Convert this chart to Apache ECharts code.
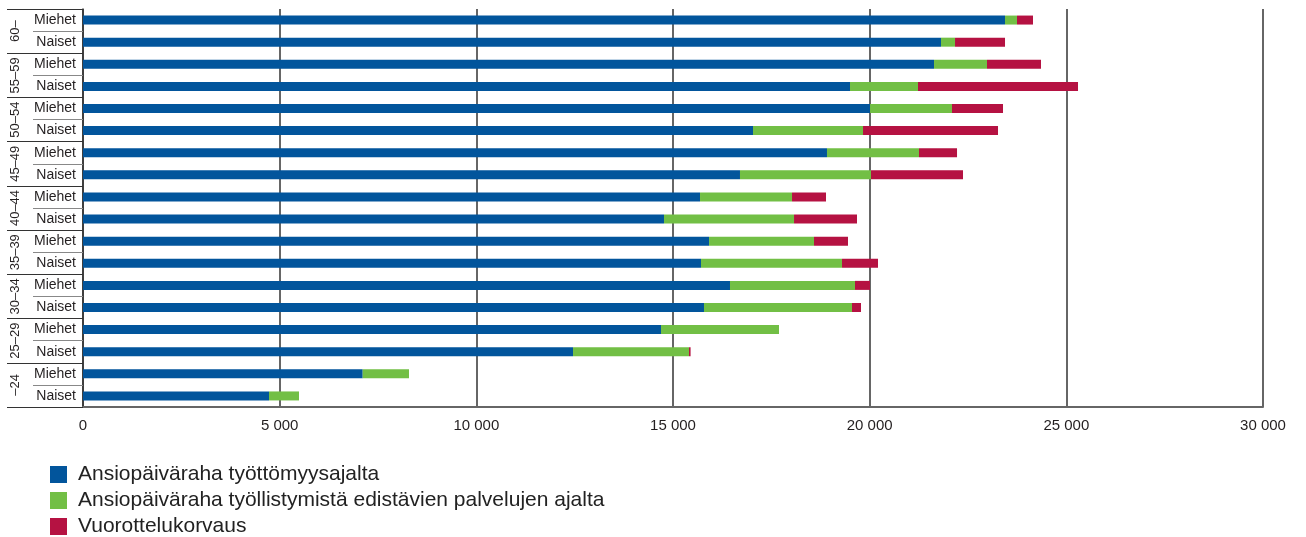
<!DOCTYPE html>
<html>
<head>
<meta charset="utf-8">
<script src="https://cdn.jsdelivr.net/npm/echarts@6/dist/echarts.min.js"></script>
<style>
html,body{margin:0;padding:0;background:#fff;}
#chart{width:1306px;height:537px;}
</style>
</head>
<body>
<div id="chart"></div>
<script>
const rowLabels = ["Miehet","Naiset","Miehet","Naiset","Miehet","Naiset","Miehet","Naiset","Miehet","Naiset","Miehet","Naiset","Miehet","Naiset","Miehet","Naiset","Miehet","Naiset"];
const groupLabels = ["60–","55–59","50–54","45–49","40–44","35–39","30–34","25–29","–24"];
const seriesNames = ["Ansiopäiväraha työttömyysajalta","Ansiopäiväraha työllistymistä edistävien palvelujen ajalta","Vuorottelukorvaus"];
const unemployment = [23441,21814,21636,19500,20009,17034,18915,16703,15687,14771,15916,15712,16449,15788,14695,12458,7111,4729];
const services = [305,356,1347,1729,2084,2797,2339,3331,2339,3306,2669,3585,3178,3763,3000,2949,1177,763];
const jobAlternation = [407,1271,1373,4068,1297,3432,967,2339,864,1601,864,915,382,229,0,40,0,0];
const xTicks = [0,5000,10000,15000,20000,25000,30000];

const colors = ["#02559c","#72bf45","#b51242"];
const font = "'Liberation Sans',Arial,sans-serif";
const chart = echarts.init(document.getElementById('chart'), null, {renderer:'canvas'});
const values = [unemployment, services, jobAlternation];
chart.setOption({
  animation:false,
  color:colors,
  grid:{left:83,right:43,top:9,bottom:130,containLabel:false},
  legend:seriesNames.map((n,i)=>({
    orient:'vertical',left:50,top:464+i*26,padding:0,itemWidth:17,itemHeight:17,
    icon:'rect',selectedMode:false,
    textStyle:{fontSize:21,color:'#222',fontFamily:font,padding:[0,0,0,6]},
    data:[n]
  })),
  xAxis:{
    type:'value',min:xTicks[0],max:xTicks[xTicks.length-1],interval:5000,
    axisLine:{show:true,lineStyle:{color:'#666',width:2}},
    axisTick:{show:false},
    splitLine:{show:true,lineStyle:{color:'#333',width:1.5}},
    axisLabel:{margin:11,fontSize:15,color:'#231f20',fontFamily:font,
      formatter:v=>String(v).replace(/\B(?=(\d{3})+(?!\d))/g,' ')}
  },
  yAxis:[{
    type:'category',data:rowLabels,inverse:true,position:'left',
    axisLine:{show:true,onZero:false,lineStyle:{color:'#333',width:1.5}},
    axisTick:{show:true,length:50,interval:0,lineStyle:{color:'#888',width:1}},
    axisLabel:{margin:7,fontSize:14,color:'#231f20',fontFamily:font,interval:0}
  },{
    type:'category',data:groupLabels,inverse:true,position:'left',
    axisLine:{show:false},
    axisTick:{show:true,length:76,interval:0,lineStyle:{color:'#333',width:1}},
    axisLabel:{margin:61,rotate:90,fontSize:13,color:'#231f20',fontFamily:font,interval:0}
  }],
  series:seriesNames.map((n,i)=>({
    name:n,type:'bar',stack:'total',yAxisIndex:0,barWidth:9,
    data:values[i],itemStyle:{color:colors[i]}
  }))
});
</script>
</body>
</html>
